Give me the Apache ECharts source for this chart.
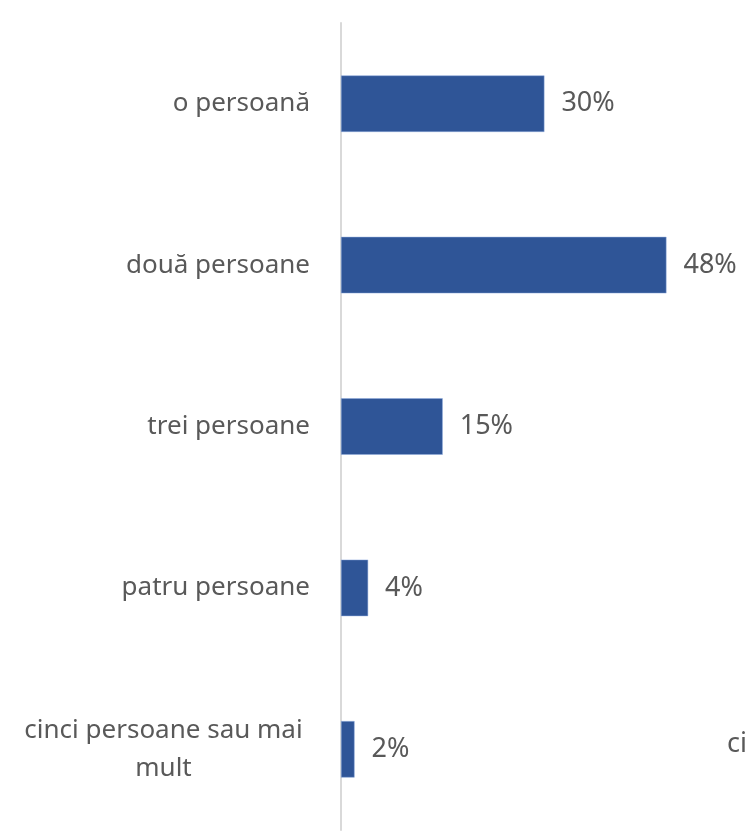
<!DOCTYPE html>
<html>
<head>
<meta charset="utf-8">
<script src="https://cdn.jsdelivr.net/npm/echarts@6/dist/echarts.min.js"></script>
<style>
  html, body { margin: 0; padding: 0; background: #fff; }
  #chart { width: 745px; height: 833px; }
</style>
</head>
<body>
<div id="chart"></div>
<script>
// household size categories, top to bottom
const categories = ['o persoană', 'două persoane', 'trei persoane', 'patru persoane', 'cinci persoane sau mai\nmult']
const shares = [30, 48, 15, 4, 2]

const font = '"Noto Sans", sans-serif'
const chart = echarts.init(document.getElementById('chart'))

chart.setOption({
  animation: false,
  grid: { left: 341, top: 23, width: 339, bottom: 3 },
  xAxis: {
    type: 'value',
    min: 0,
    max: 50,
    show: false
  },
  yAxis: {
    type: 'category',
    data: categories,
    inverse: true,
    axisLine: { show: true, lineStyle: { color: '#d9d9d9', width: 2 } },
    axisTick: { show: false },
    axisLabel: {
      margin: 31,
      color: '#595959',
      fontSize: 26,
      fontFamily: font,
      align: 'right',
      formatter: function (v) {
        // wrapped label is centred line by line, like the original
        return v.indexOf('\n') >= 0 ? '{w|' + v + '}' : v
      },
      rich: {
        w: { width: 293, align: 'center', lineHeight: 38, fontSize: 26, fontFamily: font, color: '#595959' }
      }
    }
  },
  series: [{
    type: 'bar',
    data: shares,
    barWidth: '35%',
    itemStyle: { color: '#2F5597', borderColor: '#8faadc', borderWidth: 0.5 },
    label: {
      show: true,
      position: 'right',
      distance: 17,
      color: '#595959',
      fontSize: 27,
      fontFamily: font,
      formatter: '{c}%'
    }
  }],
  graphic: [{
    type: 'text',
    left: 727,
    top: 731,
    style: { text: 'ci', fill: '#595959', fontSize: 27, fontFamily: font }
  }]
})
</script>
</body>
</html>
